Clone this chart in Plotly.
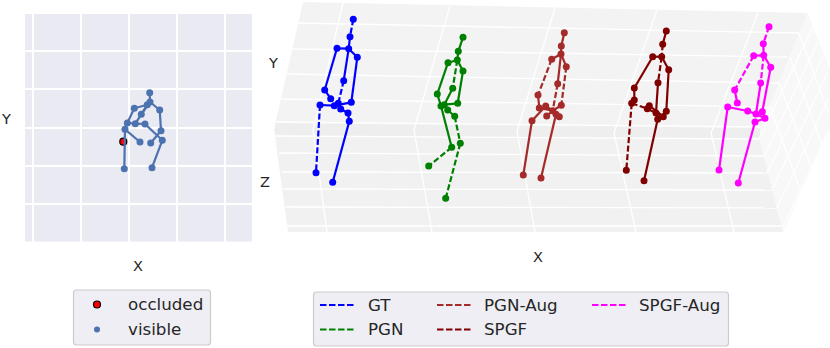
import plotly.graph_objects as go

# ---- 2D panel (in screen-projected units)
POSE_X = [149.7, 150.0, 147.3, 134.3, 159.7, 141.3, 127.3, 135.3, 145.0, 161.0, 125.0, 140.0, 150.7, 162.3, 124.3, 152.0]
POSE_Y = [92.7, 102.0, 104.7, 108.3, 110.0, 114.3, 123.0, 123.7, 124.0, 130.7, 129.3, 142.0, 143.0, 140.3, 168.7, 167.7]
POSE_EDGES = [(0,1),(1,2),(2,3),(1,4),(2,5),(5,7),(3,6),(6,10),(10,11),(4,9),(9,12),(6,7),(7,8),(8,13),(13,15),(10,14),(1,5)]
OCCLUDED_X = [123.3]
OCCLUDED_Y = [141.7]
GRID_X = [33.3, 81.3, 129.3, 177.0, 224.7]
GRID_Y = [51.0, 89.3, 127.7, 166.0, 204.3]

# ---- projected 3D poses
GT_X = [353.3, 350.0, 348.7, 337.0, 357.3, 343.7, 324.7, 330.7, 351.3, 320.0, 334.3, 338.3, 340.7, 348.0, 349.3, 316.0, 332.7]
GT_Y = [19.3, 36.7, 48.7, 48.3, 57.3, 80.7, 90.0, 98.7, 102.3, 105.0, 105.7, 103.3, 109.0, 113.0, 121.3, 172.7, 182.3]
GT_SOLID = [(1,2),(2,3),(2,4),(3,6),(6,7),(4,8),(8,10),(2,5),(10,11),(9,10),(11,12),(12,13),(13,14),(14,16)]
GT_DASHED = [(0,1),(5,11),(9,15)]

PGN_X = [463.0, 458.3, 457.3, 448.0, 463.0, 452.7, 437.3, 457.7, 441.0, 444.3, 447.7, 454.7, 460.3, 451.7, 428.7, 445.7]
PGN_Y = [37.3, 51.3, 60.0, 62.7, 71.0, 88.3, 94.0, 103.3, 106.0, 104.7, 110.0, 116.3, 143.3, 147.3, 166.0, 198.3]
PGN_SOLID = [(0,1),(1,2),(2,3),(2,4),(3,6),(6,8),(4,7),(7,9),(5,9),(8,9),(9,10),(10,11),(8,13)]
PGN_DASHED = [(2,5),(11,12),(12,15),(13,14)]

PGN_AUG_X = [564.3, 561.3, 561.0, 551.7, 566.3, 557.7, 538.0, 539.3, 561.3, 545.7, 552.7, 546.7, 559.3, 556.0, 532.0, 523.3, 541.0]
PGN_AUG_Y = [32.7, 46.0, 54.0, 59.3, 66.7, 83.7, 95.0, 108.0, 105.3, 106.0, 110.7, 116.0, 116.7, 114.3, 120.7, 175.0, 178.0]
PGN_AUG_SOLID = [(0,1),(1,2),(2,3),(2,4),(2,5),(6,7),(7,10),(8,10),(10,11),(14,9),(9,10),(10,12),(14,15),(13,16)]
PGN_AUG_DASHED = [(3,6),(4,8),(5,10)]

SPGF_X = [666.3, 662.7, 661.7, 652.7, 668.7, 658.0, 634.3, 634.3, 631.7, 666.3, 649.3, 647.3, 656.0, 663.3, 657.7, 626.3, 644.0]
SPGF_Y = [31.0, 44.3, 56.7, 56.7, 69.7, 82.7, 88.0, 100.0, 103.3, 111.3, 105.7, 108.7, 113.0, 116.7, 119.3, 170.3, 180.7]
SPGF_SOLID = [(0,1),(2,3),(2,4),(3,6),(6,7),(7,8),(4,9),(5,12),(10,11),(10,13),(11,12),(12,13),(9,14),(14,13),(14,16)]
SPGF_DASHED = [(1,2),(2,5),(8,11),(8,15)]

SPGF_AUG_X = [769.0, 763.3, 763.7, 753.7, 770.7, 760.7, 734.7, 737.3, 727.7, 747.7, 756.0, 762.3, 765.0, 755.0, 719.0, 738.3]
SPGF_AUG_Y = [26.7, 43.7, 55.3, 55.7, 67.3, 83.0, 90.0, 103.0, 107.0, 111.0, 114.0, 111.7, 118.3, 122.0, 170.0, 183.0]
SPGF_AUG_SOLID = [(1,2),(2,3),(2,4),(6,7),(4,11),(5,10),(8,9),(9,10),(10,11),(10,12),(11,12),(12,13),(8,14),(13,15)]
SPGF_AUG_DASHED = [(0,1),(3,6),(2,5)]

MODEL_NAMES = ["GT", "PGN", "PGN-Aug", "SPGF", "SPGF-Aug"]
MODEL_COLORS = ["#0000ff", "#008000", "#a52a2a", "#800000", "#ff00ff"]

# ---- 3D box: panes and their grid lines
WALL_X = [303, 808, 758, 274]
WALL_Y = [2, 13, 133, 129]
FLOOR_X = [274, 758, 783, 288]
FLOOR_Y = [129, 133, 232, 232]
SIDE_X = [808, 830, 830, 783, 758]
SIDE_Y = [13, 70, 128, 232, 133]
BAND_X = [275, 760, 760, 275]
BAND_Y = [123, 128, 139, 136]
WALL_H = [(298,23,799,33),(292,49,788,57),(287,74,779,83),(281,99,770,107),(276,122,762,127)]
FLOOR_H = [(275,136,759,139),(279,153,764,156),(282,172,767,173),(283,189,772,190),(285,207,777,208),(287,226,782,226)]
X_V = [(343,3,313,130),(450,6,414,130),(555,8,517,131),(657,10,614,133),(758,13,711,133)]
X_F = [(313,130,327,232),(414,130,432,232),(517,131,535,232),(614,133,636,232),(711,133,734,232)]
SIDE_UP = [(759,139,813,27),(764,156,818,42),(767,173,823,56),(772,190,828,72),(777,208,829,98),(783,227,829,130)]
SIDE_DOWN = [(799,33,829,114),(790,57,822,145),(779,83,812,169),(770,107,801,192)]

FONT = "DejaVu Sans"
TEXT = "#262626"
BG = "#eaeaf2"

fig = go.Figure()
P = dict(xaxis="x2", yaxis="y2", hoverinfo="skip", showlegend=False)

def segs(x, y, edges):
    xs, ys = [], []
    for a, b in edges:
        xs += [x[a], x[b], None]
        ys += [y[a], y[b], None]
    return xs, ys

def lines4(groups):
    xs, ys = [], []
    for g in groups:
        for x0, y0, x1, y1 in g:
            xs += [x0, x1, None]
            ys += [y0, y1, None]
    return xs, ys

# panes
for px, py, c in [(WALL_X, WALL_Y, "#f3f3f3"), (FLOOR_X, FLOOR_Y, "#f1f1f1"),
                  (SIDE_X, SIDE_Y, "#f8f8f8"), (BAND_X, BAND_Y, "#eeeeee")]:
    fig.add_trace(go.Scatter(x=px, y=py, mode="lines", fill="toself", fillcolor=c,
                             line=dict(width=0, color=c), **P))
gx, gy = lines4([WALL_H, FLOOR_H, X_V, X_F, SIDE_UP, SIDE_DOWN])
fig.add_trace(go.Scatter(x=gx, y=gy, mode="lines", line=dict(color="#ffffff", width=1.3), **P))

# 3D poses
MODELS = [(GT_X, GT_Y, GT_SOLID, GT_DASHED), (PGN_X, PGN_Y, PGN_SOLID, PGN_DASHED),
          (PGN_AUG_X, PGN_AUG_Y, PGN_AUG_SOLID, PGN_AUG_DASHED),
          (SPGF_X, SPGF_Y, SPGF_SOLID, SPGF_DASHED),
          (SPGF_AUG_X, SPGF_AUG_Y, SPGF_AUG_SOLID, SPGF_AUG_DASHED)]
for (mx, my, sol, das), name, col in zip(MODELS, MODEL_NAMES, MODEL_COLORS):
    sx, sy = segs(mx, my, sol)
    dx, dy = segs(mx, my, das)
    fig.add_trace(go.Scatter(x=sx, y=sy, mode="lines", line=dict(color=col, width=2.2), name=name, **P))
    fig.add_trace(go.Scatter(x=dx, y=dy, mode="lines", line=dict(color=col, width=2.2, dash="6px,2.5px"), name=name, **P))
    fig.add_trace(go.Scatter(x=mx, y=my, mode="markers", marker=dict(color=col, size=7), name=name, **P))

# 2D panel
sx, sy = segs(POSE_X, POSE_Y, POSE_EDGES)
fig.add_trace(go.Scatter(x=OCCLUDED_X, y=OCCLUDED_Y, mode="markers", name="occluded", showlegend=False, hoverinfo="skip",
                         marker=dict(color="#ff0000", size=7, line=dict(color="#000000", width=1.2))))
fig.add_trace(go.Scatter(x=sx, y=sy, mode="lines", line=dict(color="#4c72b0", width=2.2), showlegend=False, hoverinfo="skip"))
fig.add_trace(go.Scatter(x=POSE_X, y=POSE_Y, mode="markers", name="visible", showlegend=False, hoverinfo="skip",
                         marker=dict(color="#4c72b0", size=7)))

# legends, drawn on the page axis
LEG_LEFT_NAMES = ["occluded", "visible"]
LEG_LEFT_Y = [304.5, 329.5]
fig.add_trace(go.Scatter(x=[97], y=[LEG_LEFT_Y[0]], mode="markers",
                         marker=dict(color="#ff0000", size=7, line=dict(color="#000000", width=1.2)), **P))
fig.add_trace(go.Scatter(x=[97], y=[LEG_LEFT_Y[1]], mode="markers", marker=dict(color="#4c72b0", size=6), **P))
LEG_X0 = [320, 320, 437, 437, 592]
LEG_X1 = [354, 354, 471, 471, 626]
LEG_TX = [365.7, 365.7, 482.3, 482.3, 637.3]
LEG_Y = [305, 329.5, 305, 329.5, 305]
for i, (name, col) in enumerate(zip(MODEL_NAMES, MODEL_COLORS)):
    fig.add_trace(go.Scatter(x=[LEG_X0[i], LEG_X1[i]], y=[LEG_Y[i]] * 2, mode="lines",
                             line=dict(color=col, width=1.8, dash="6.5px,2.5px"), **P))

def rrect(x0, y0, x1, y1, r=3):
    return (f"M{x0+r},{y0} L{x1-r},{y0} Q{x1},{y0} {x1},{y0+r} L{x1},{y1-r} Q{x1},{y1} {x1-r},{y1} "
            f"L{x0+r},{y1} Q{x0},{y1} {x0},{y1-r} L{x0},{y0+r} Q{x0},{y0} {x0+r},{y0} Z")

shapes = [dict(type="path", path=rrect(*b), xref="x2", yref="y2", layer="below",
               fillcolor="#eeeef4", line=dict(color="#cccccc", width=1.2))
          for b in [(73.5, 290, 210.5, 345), (313.5, 292, 728.5, 346)]]

anns = []
def label(x, y, t, anchor="center", size=14.5):
    anns.append(dict(x=x, y=y, xref="x2", yref="y2", text=t, showarrow=False, xanchor=anchor, yanchor="middle",
                     font=dict(family=FONT, size=size, color=TEXT), xshift=0, yshift=0))
label(6, 119, "Y"); label(138, 266, "X"); label(273, 63, "Y"); label(265, 182, "Z"); label(538, 257, "X")
for n, y in zip(LEG_LEFT_NAMES, LEG_LEFT_Y):
    label(125.5, y - 1, n, "left", 16.7)
for i, n in enumerate(MODEL_NAMES):
    label(LEG_TX[i], LEG_Y[i] - 0.5, n, "left", 16.7)

ax = dict(showticklabels=False, ticks="", zeroline=False, showline=False)
fig.update_layout(
    width=830, height=348, autosize=False,
    margin=dict(l=0, r=0, t=0, b=0), paper_bgcolor="#ffffff", plot_bgcolor="rgba(0,0,0,0)",
    showlegend=False, shapes=shapes, annotations=anns,
    xaxis=dict(domain=[25/830, 252/830], range=[25, 252], tickvals=GRID_X, showgrid=True,
               gridcolor="#ffffff", gridwidth=1.6, **ax),
    yaxis=dict(domain=[1-241.5/348, 1-14/348], range=[241.5, 14], tickvals=GRID_Y, showgrid=True,
               gridcolor="#ffffff", gridwidth=1.6, **ax),
    xaxis2=dict(domain=[0, 1], range=[0, 830], anchor="y2", showgrid=False, visible=False),
    yaxis2=dict(domain=[0, 1], range=[348, 0], anchor="x2", showgrid=False, visible=False),
)
# panel background, below everything of the 2D axes
fig.add_shape(type="rect", xref="x domain", yref="y domain", x0=0, x1=1, y0=0, y1=1,
              fillcolor=BG, line=dict(width=0), layer="below")
fig.write_html("out.html", config={"displayModeBar": False},
               post_script="document.body.style.margin='0';document.documentElement.style.overflow='hidden';")
